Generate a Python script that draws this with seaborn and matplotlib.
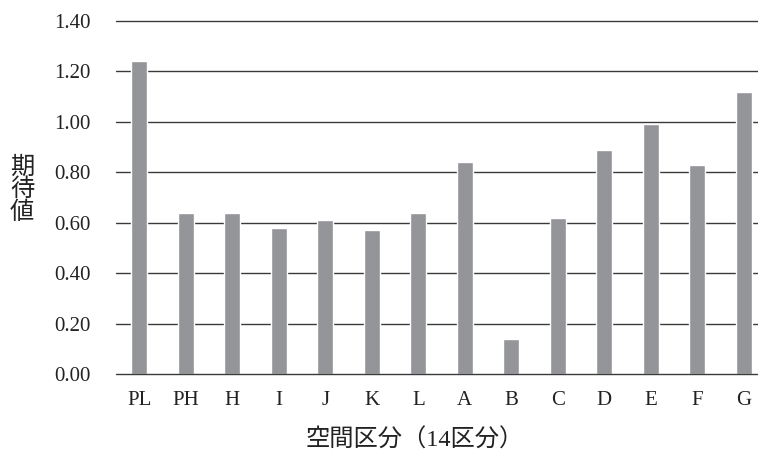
import matplotlib
matplotlib.use("Agg")
import matplotlib.pyplot as plt
import seaborn as sns
import pandas as pd

# spatial zones (14 divisions) and their expected values
zones = ["PL", "PH", "H", "I", "J", "K", "L", "A", "B", "C", "D", "E", "F", "G"]
expected = [1.24, 0.64, 0.64, 0.58, 0.61, 0.57, 0.64, 0.84, 0.14, 0.62, 0.89, 0.99, 0.83, 1.12]
y_ticks = [0.0, 0.2, 0.4, 0.6, 0.8, 1.0, 1.2, 1.4]

df = pd.DataFrame({"zone": zones, "value": expected})

sns.set_theme(style="white")
plt.rcParams["font.family"] = ["Liberation Serif", "Noto Sans CJK JP"]

fig = plt.figure(figsize=(7.58, 4.57), dpi=100)
ax = fig.add_axes([0.153, 0.1816, 0.859, 0.7725])

for t in y_ticks:
    ax.axhline(t, color="#3a3a3a", linewidth=1.0, zorder=3 if t == 0 else 0,
               clip_on=False)

sns.barplot(data=df, x="zone", y="value", order=zones, color="#939598",
            saturation=1, width=0.34, ax=ax, zorder=2)

ax.set_xlim(-0.5, len(zones) - 0.5)
ax.set_ylim(0, 1.40)
ax.set_yticks(y_ticks)
ax.set_yticklabels([f"{t:.2f}" for t in y_ticks])
for s in ax.spines.values():
    s.set_visible(False)
ax.tick_params(axis="y", length=0, pad=18, labelsize=15, labelcolor="#222222")
ax.tick_params(axis="x", length=0, pad=12, labelsize=15, labelcolor="#222222")
ax.set_xlabel("")
ax.set_ylabel("")

fig.text(415 / 758, 1 - 440 / 457, "空間区分（14区分）", ha="center", va="center",
         fontsize=17.5, color="#222222")
fig.text(22 / 758, 1 - 190 / 457, "期\n待\n値", ha="center", va="center",
         fontsize=17.5, color="#222222", linespacing=1.0)

fig.savefig("out.png", dpi=100)
